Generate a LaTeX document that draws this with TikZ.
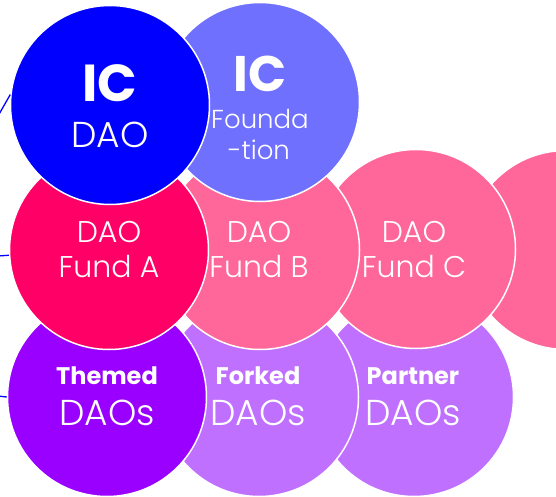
\documentclass[tikz,border=0pt]{standalone}
\usepackage{fontspec}
\setmainfont{Poppins}[UprightFont=* Light, BoldFont=* Bold]
\definecolor{cdao}{HTML}{0000FF}
\definecolor{cfound}{HTML}{7070FF}
\definecolor{cfunda}{HTML}{FF0066}
\definecolor{cfundb}{HTML}{FF6699}
\definecolor{cthemed}{HTML}{9900FF}
\definecolor{cforked}{HTML}{C070FF}
\begin{document}
\begin{tikzpicture}[x=1pt,y=-1pt,
  disc/.style={circle, draw=white, line width=1.5pt, minimum size=199pt, inner sep=0pt},
  lbl/.style={text=white, anchor=base, inner sep=0pt},
  link/.style={draw=cdao, line width=1.3pt},
  big/.style={font=\fontsize{36}{36}\selectfont},
  mid/.style={font=\fontsize{30}{30}\selectfont},
  small/.style={font=\fontsize{26}{26}\selectfont},
  boldic/.style={font=\fontsize{52}{52}\selectfont\bfseries},
  boldsm/.style={font=\fontsize{24}{24}\selectfont\bfseries}]
\useasboundingbox (0,0) rectangle (556,497);
\clip (0,0) rectangle (556,497);
% bottom row
\node[disc, fill=cforked] (partner) at (414,397) {};
\node[disc, fill=cforked] (forked) at (259,397) {};
\node[disc, fill=cthemed] (themed) at (107,397) {};
% middle row
\node[disc, fill=cfundb] (fundd) at (566,250) {};
\node[disc, fill=cfundb] (fundc) at (416,249) {};
\node[disc, fill=cfundb] (fundb) at (260,250) {};
\node[disc, fill=cfunda] (funda) at (109,250) {};
% top row
\node[disc, fill=cfound] (found) at (260,102) {};
\node[disc, fill=cdao] (icdao) at (110,105) {};
% texts
\node[lbl, boldic] (t1) at (110,102) {IC};
\node[lbl, big] (t2) at (110,148) {DAO};
\node[lbl, boldic, font=\fontsize{50}{50}\selectfont\bfseries] (t3) at (260,92) {IC};
\node[lbl, small] (t4) at (260,129) {Founda};
\node[lbl, small] (t5) at (259,160) {-tion};
\node[lbl, mid] (t6) at (109,242) {DAO};
\node[lbl, mid] (t7) at (109,277) {Fund A};
\node[lbl, mid] (t8) at (259,242) {DAO};
\node[lbl, mid] (t9) at (259,277) {Fund B};
\node[lbl, mid] (t10) at (414,242) {DAO};
\node[lbl, mid] (t11) at (414,277) {Fund C};
\node[lbl, boldsm] (t12) at (107,384) {Themed};
\node[lbl, big] (t13) at (107,425) {DAOs};
\node[lbl, boldsm] (t14) at (258,384) {Forked};
\node[lbl, big] (t15) at (258,425) {DAOs};
\node[lbl, boldsm] (t16) at (413,384) {Partner};
\node[lbl, big] (t17) at (413,425) {DAOs};
% connectors coming in from the left
\coordinate (l1) at (-2,116);
\coordinate (l2) at (-2,256);
\coordinate (l3) at (-2,396);
\draw[link] (l1) -- (icdao.174);
\draw[link] (l2) -- (funda.183);
\draw[link] (l3) -- (themed.180);
\end{tikzpicture}
\end{document}
